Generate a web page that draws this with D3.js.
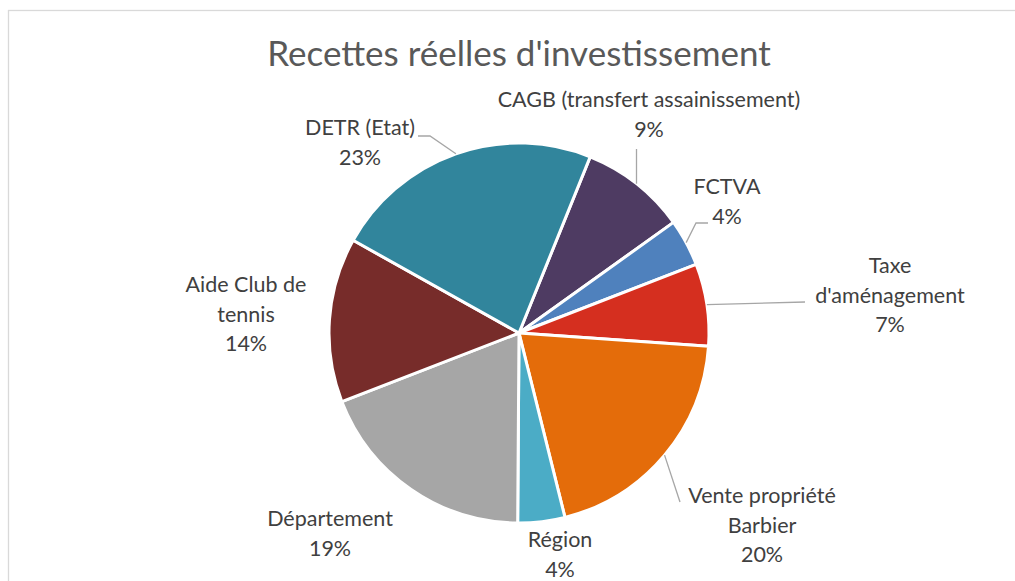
<!DOCTYPE html>
<html>
<head>
<meta charset="utf-8">
<script src="https://cdn.jsdelivr.net/npm/d3@7"></script>
<style>
  html, body { margin: 0; padding: 0; background: #fff; }
  svg { display: block; font-family: Lato, "Open Sans", sans-serif; }
  .title { fill: #595959; }
  .slice-label { fill: #404040; }
  .leader { fill: none; stroke: #a6a6a6; stroke-width: 1.3; }
</style>
</head>
<body>
<div id="chart"></div>
<script>
/* Pie chart: Recettes réelles d'investissement */

const categories = [
  "CAGB (transfert assainissement)",
  "FCTVA",
  "Taxe d'aménagement",
  "Vente propriété Barbier",
  "Région",
  "Département",
  "Aide Club de tennis",
  "DETR (Etat)"
];
const values = [9, 4, 7, 20, 4, 19, 14, 23];
const colours = ["#4e3b62", "#4f81bd", "#d52f1f", "#e46c0a", "#4bacc6", "#a6a6a6", "#772c2a", "#31859c"];

// how Excel wrapped each label
const labelLines = [
  ["CAGB (transfert assainissement)"],
  ["FCTVA"],
  ["Taxe", "d'aménagement"],
  ["Vente propriété", "Barbier"],
  ["Région"],
  ["Département"],
  ["Aide Club de", "tennis"],
  ["DETR (Etat)"]
];

(function() {
  const fullW = 1015, fullH = 581;
  const cx = 519, cy = 333, R = 190;
  const startAngle = 22 * Math.PI / 180;
  const lineH = 29.5;

  // label block: centre x and first baseline, relative to pie centre;
  // leader: where the line meets the label, and elbow style
  const labelLayout = [
    { dx: 130,  dy: -226, attach: [118, -184], elbow: "v" },
    { dx: 208,  dy: -139, attach: [189, -110], elbow: "h" },
    { dx: 371,  dy: -60,  attach: [286, -31],  elbow: "n" },
    { dx: 243,  dy: 170,  attach: [161, 169],  elbow: "n" },
    { dx: 41,   dy: 214,  attach: null },
    { dx: -189, dy: 193,  attach: null },
    { dx: -273, dy: -41,  attach: null },
    { dx: -159, dy: -198, attach: [-101, -197], elbow: "h" }
  ];

  const svg = d3.select("#chart")
    .append("svg")
    .attr("width", fullW)
    .attr("height", fullH)
    .attr("viewBox", `0 0 ${fullW} ${fullH}`);

  // chart area frame (only top and left edges visible)
  svg.append("rect")
    .attr("x", 8.5).attr("y", 10.5)
    .attr("width", 1200).attr("height", 800)
    .attr("fill", "none")
    .attr("stroke", "#d9d9d9")
    .attr("stroke-width", 1.3);

  svg.append("text")
    .attr("class", "title")
    .attr("x", 519)
    .attr("y", 66)
    .attr("text-anchor", "middle")
    .style("font-size", "35px")
    .text("Recettes réelles d'investissement");

  const data = categories.map((c, i) => ({ name: c, value: values[i], colour: colours[i], lines: labelLines[i], layout: labelLayout[i] }));
  const total = d3.sum(values);
  const pct = d3.format(".0%");

  const pie = d3.pie()
    .value(d => d.value)
    .sort(null)
    .startAngle(startAngle)
    .endAngle(startAngle + 2 * Math.PI);

  const arc = d3.arc().innerRadius(0).outerRadius(R);

  const g = svg.append("g").attr("transform", `translate(${cx},${cy})`);
  const arcs = pie(data);

  g.selectAll(".slice")
    .data(arcs)
    .enter()
    .append("path")
    .attr("class", "slice")
    .attr("d", arc)
    .attr("fill", d => d.data.colour)
    .attr("stroke", "#fff")
    .attr("stroke-width", 3)
    .attr("stroke-linejoin", "round");

  // leader lines from slice edge (mid-angle) to label
  const line = d3.line();
  g.selectAll(".leader")
    .data(arcs.filter(d => d.data.layout.attach))
    .enter()
    .append("path")
    .attr("class", "leader")
    .attr("d", d => {
      const mid = (d.startAngle + d.endAngle) / 2;
      const p0 = [Math.sin(mid) * R, -Math.cos(mid) * R];
      const a = d.data.layout.attach;
      if (d.data.layout.elbow === "h") {
        const side = a[0] > p0[0] ? -1 : 1;
        return line([p0, [a[0] + side * 12, a[1]], a]);
      }
      if (d.data.layout.elbow === "v") {
        return line([p0, [p0[0], a[1]]]);
      }
      return line([p0, a]);
    });

  const labels = g.selectAll(".slice-label")
    .data(arcs)
    .enter()
    .append("text")
    .attr("class", "slice-label")
    .attr("text-anchor", "middle")
    .style("font-size", "21.5px");

  labels.each(function(d) {
    const t = d3.select(this);
    const rows = d.data.lines.concat([pct(d.data.value / total)]);
    rows.forEach((r, i) => {
      t.append("tspan")
        .attr("x", d.data.layout.dx)
        .attr("y", d.data.layout.dy + i * lineH)
        .text(r);
    });
  });
})();
</script>
</body>
</html>
